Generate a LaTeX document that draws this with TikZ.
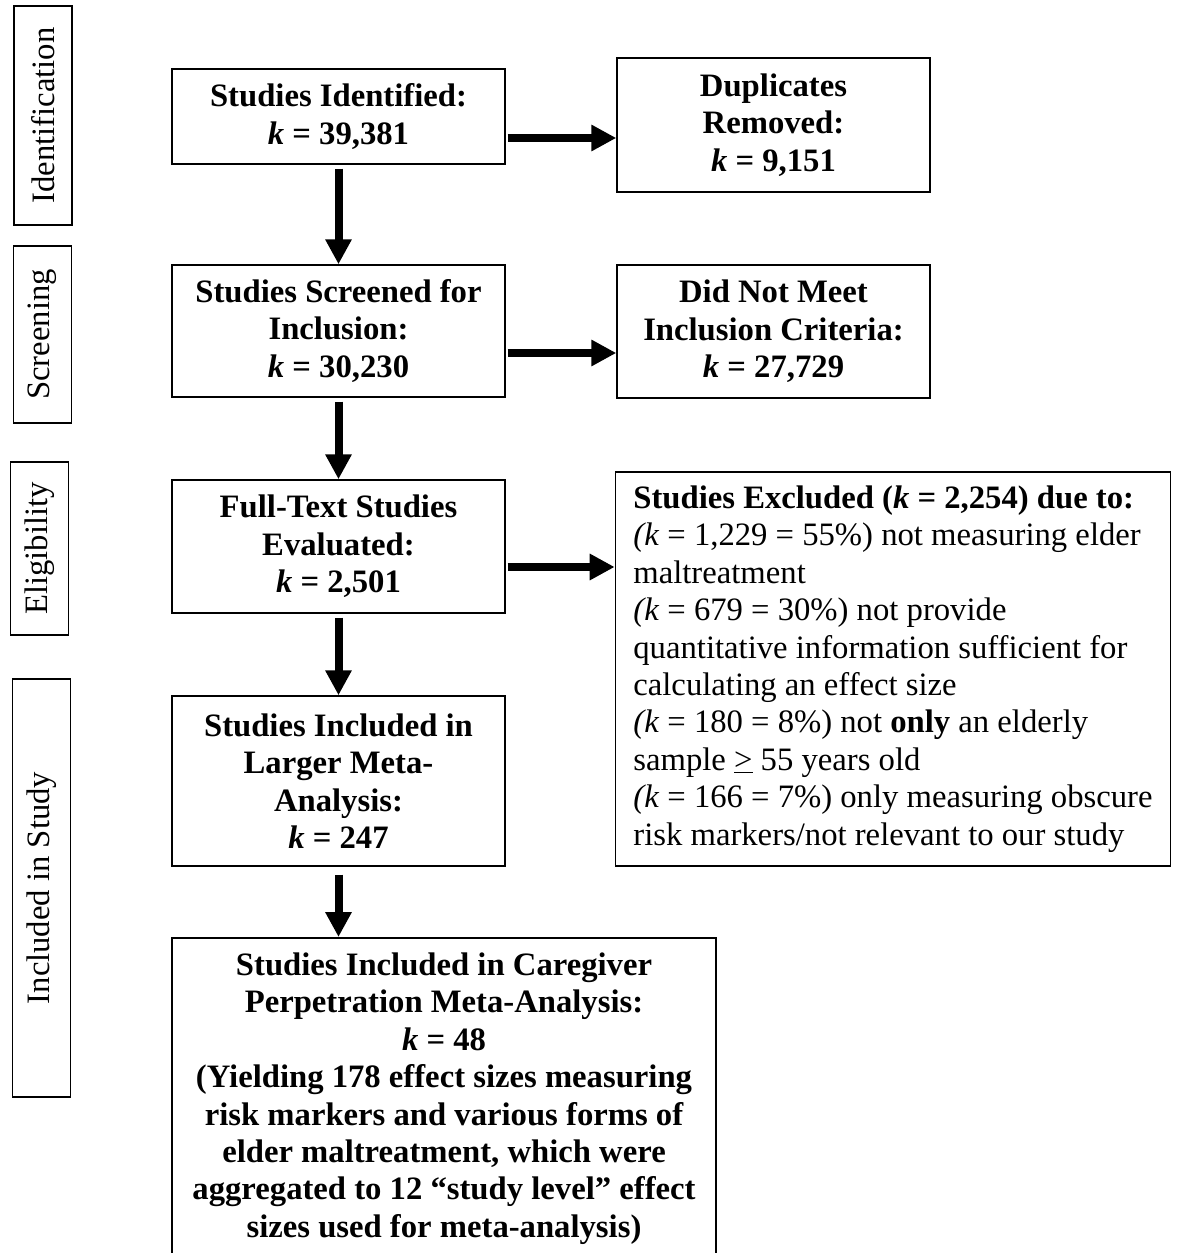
\documentclass[tikz,border=0pt]{standalone}
\usepackage{fontspec}
\setmainfont{Liberation Serif}
\usetikzlibrary{positioning, calc, arrows.meta}
\tikzset{box/.style={draw, line width=0.03cm, inner sep=0pt, align=center,
    font=\fontsize{18.6}{21.3}\selectfont\bfseries}}
\tikzset{phase/.style={draw, line width=0.03cm, inner sep=0pt, rotate=90,
    minimum height=1.16cm, font=\fontsize{18.6}{21.3}\selectfont}}
\tikzset{flow/.style={line width=0.16cm, -{Triangle[width=0.5cm,length=0.5cm]}}}
\newcommand{\kk}{\textit{k}}

\begin{document}
\begin{tikzpicture}[x=0.02cm, y=-0.02cm]
  \useasboundingbox (0,0) rectangle (1181,1253);
  \clip (0,0) rectangle (1181,1253);

  % phases on the left
  \node[phase, minimum width=4.38cm] (pid) at (43,115.5) {Identification};
  \node[phase, minimum width=3.54cm] (pscr) at (42.5,334.5) {Screening};
  \node[phase, minimum width=3.46cm] (pel) at (39.5,548.5) {Eligibility};
  \node[phase, minimum width=8.36cm] (pinc) at (41.5,888) {Included in Study};

  % main column
  \node[box, minimum width=6.66cm, minimum height=1.9cm] (ident) at (338.5,116.5)
    {Studies Identified:\\ \kk{} = 39,381};
  \node[box, minimum width=6.66cm, minimum height=2.64cm] (screen) at (338.5,331)
    {Studies Screened for\\ Inclusion:\\ \kk{} = 30,230};
  \node[box, minimum width=6.66cm, minimum height=2.66cm] (full) at (338.5,546.5)
    {Full-Text Studies\\ Evaluated:\\ \kk{} = 2,501};
  \node[box, minimum width=6.66cm, minimum height=3.4cm] (larger) at (338.5,781)
    {Studies Included in\\ Larger Meta-\\ Analysis:\\ \kk{} = 247};
  \node[box, minimum width=10.88cm, anchor=north, inner ysep=0.3cm] (care) at (444,937)
    {Studies Included in Caregiver\\ Perpetration Meta-Analysis:\\ \kk{} = 48\\
     (Yielding 178 effect sizes measuring\\ risk markers and various forms of\\
     elder maltreatment, which were\\ aggregated to 12 “study level” effect\\
     sizes used for meta-analysis)};

  % removed records
  \node[box, minimum width=6.26cm, minimum height=2.68cm] (dup) at (773.5,125)
    {Duplicates\\ Removed:\\ \kk{} = 9,151};
  \node[box, minimum width=6.26cm, minimum height=2.66cm] (notmeet) at (773.5,331.5)
    {Did Not Meet\\ Inclusion Criteria:\\ \kk{} = 27,729};
  \node[box, align=left, inner xsep=0.36cm, minimum width=11.08cm, minimum height=7.88cm,
    font=\fontsize{18.6}{21.3}\selectfont] (excl) at (893,669)
    {\textbf{Studies Excluded (\kk{} = 2,254) due to:}\\
     \textit{(k} = 1,229 = 55\%) not measuring elder\\ maltreatment\\
     \textit{(k} = 679 = 30\%) not provide\\ quantitative information sufficient for\\
     calculating an effect size\\
     \textit{(k} = 180 = 8\%) not \textbf{only} an elderly\\ sample \underline{>} 55 years old\\
     \textit{(k} = 166 = 7\%) only measuring obscure\\ risk markers/not relevant to our study};

  % arrows
  \draw[flow, shorten <=0.08cm] (ident) -- (screen);
  \draw[flow, shorten <=0.08cm] (screen) -- (full);
  \draw[flow, shorten <=0.08cm] (full) -- (larger);
  \draw[flow, shorten <=0.16cm] (larger) -- (larger |- care.north);

  \coordinate (h1) at ([yshift=-0.43cm]ident.east);
  \coordinate (h2) at ([yshift=-0.44cm]screen.east);
  \coordinate (h3) at ([yshift=-0.41cm]full.east);
  \draw[flow, shorten <=0.04cm] (h1) -- (h1 -| dup.west);
  \draw[flow, shorten <=0.04cm] (h2) -- (h2 -| notmeet.west);
  \draw[flow, shorten <=0.04cm] (h3) -- (h3 -| excl.west);
\end{tikzpicture}
\end{document}
